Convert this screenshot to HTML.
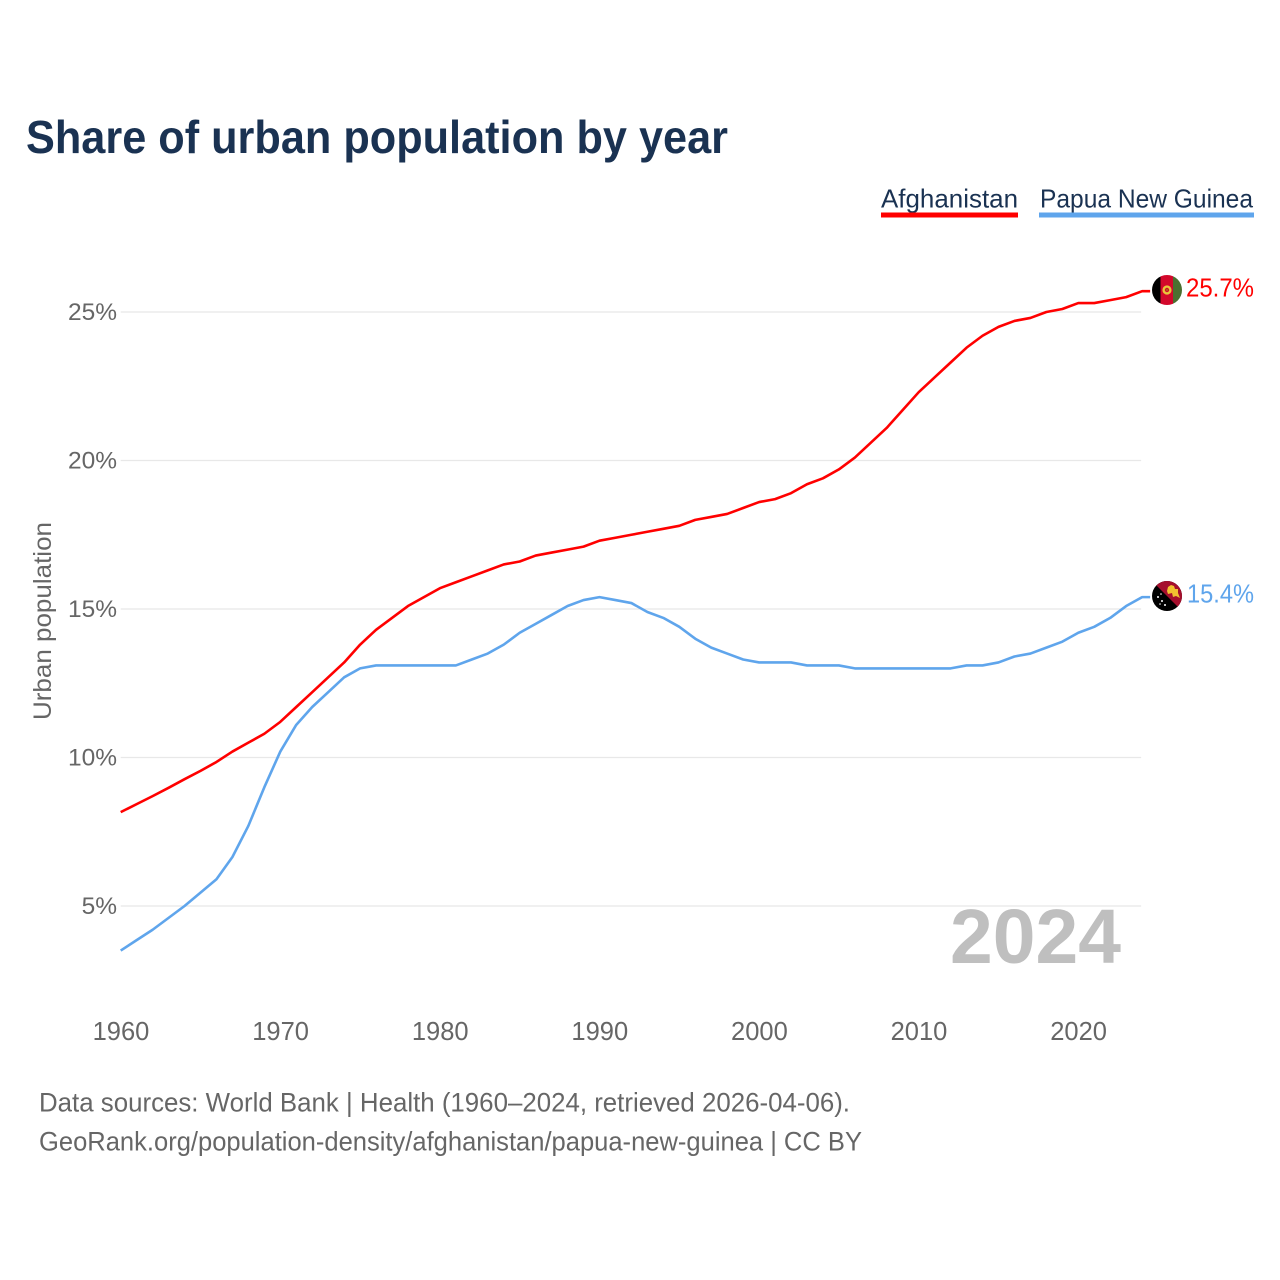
<!DOCTYPE html>
<html lang="en">
<head>
<meta charset="utf-8">
<title>Share of urban population by year</title>
<style>
html,body{margin:0;padding:0;background:#fff;width:1280px;height:1280px;overflow:hidden}
svg{display:block}
text{font-family:"Liberation Sans",sans-serif}
</style>
</head>
<body>
<svg id="chart" width="1280" height="1280" viewBox="0 0 1280 1280" xmlns="http://www.w3.org/2000/svg">
  <defs>
    <clipPath id="clip-af"><circle cx="1167" cy="290" r="15"/></clipPath>
    <clipPath id="clip-pg"><circle cx="1167" cy="596" r="15"/></clipPath>
  </defs>
  <rect x="0" y="0" width="1280" height="1280" fill="#fff"/>
  <text x="26" y="153" font-size="46" font-weight="700" fill="#1a3252" textLength="702" lengthAdjust="spacingAndGlyphs">Share of urban population by year</text>

  <g>
    <g>
      <text x="881" y="207.5" font-size="26" fill="#1a3252" textLength="137" lengthAdjust="spacingAndGlyphs">Afghanistan</text>
      <rect x="881" y="212.5" width="137" height="5" fill="#ff0000"/>
    </g>
    <g>
      <text x="1040" y="207.5" font-size="26" fill="#1a3252" textLength="213" lengthAdjust="spacingAndGlyphs">Papua New Guinea</text>
      <rect x="1039" y="212.5" width="215" height="5" fill="#5fa5ec"/>
    </g>
  </g>

  <g id="grid"></g>
  <g id="yticks"></g>
  <g id="xticks"></g>
  <text transform="translate(51,621) rotate(-90)" text-anchor="middle" font-size="25" fill="#666" textLength="198" lengthAdjust="spacingAndGlyphs">Urban population</text>
  <text x="950" y="963" font-size="77" font-weight="700" fill="#bfbfbf" textLength="171" lengthAdjust="spacingAndGlyphs">2024</text>

  <g id="series"></g>

  <g clip-path="url(#clip-af)">
    <rect x="1152" y="275" width="8.5" height="30" fill="#000"/>
    <rect x="1160.5" y="275" width="12.5" height="30" fill="#d3082b"/>
    <rect x="1173" y="275" width="9" height="30" fill="#4a7030"/>
    <circle cx="1167" cy="290" r="3.4" fill="none" stroke="#e8c53a" stroke-width="2.4"/>
    <circle cx="1167" cy="290" r="1" fill="#a8701a"/>
  </g>
  <g clip-path="url(#clip-pg)">
    <rect x="1152" y="581" width="30" height="30" fill="#000"/>
    <polygon points="1152,581 1182,581 1182,611" fill="#a50f2d"/>
    <polygon points="1167,591 1168,587 1171,585 1174,586 1175,589 1178,589 1178,593 1180,598 1176,596 1173,597 1172,593 1168,594" fill="#f2c230"/>
    <circle cx="1158" cy="597" r="1" fill="#fff"/>
    <circle cx="1161" cy="594" r="0.8" fill="#fff"/>
    <circle cx="1162" cy="601" r="1" fill="#fff"/>
    <circle cx="1160" cy="604" r="0.8" fill="#fff"/>
    <circle cx="1165" cy="605" r="1" fill="#fff"/>
  </g>

  <text id="value-af" x="1186" y="296.5" font-size="26" fill="#ff0000" textLength="68" lengthAdjust="spacingAndGlyphs"></text>
  <text id="value-pg" x="1187" y="602.5" font-size="26" fill="#5fa5ec" textLength="67" lengthAdjust="spacingAndGlyphs"></text>

  <g>
    <text x="39" y="1111.5" font-size="27" fill="#666" textLength="811" lengthAdjust="spacingAndGlyphs">Data sources: World Bank | Health (1960–2024, retrieved 2026-04-06).</text>
    <text x="39" y="1150.5" font-size="27" fill="#666" textLength="823" lengthAdjust="spacingAndGlyphs">GeoRank.org/population-density/afghanistan/papua-new-guinea | CC BY</text>
  </g>
</svg>
<script>
const years = [1960,1961,1962,1963,1964,1965,1966,1967,1968,1969,1970,1971,1972,1973,1974,1975,1976,1977,1978,1979,1980,1981,1982,1983,1984,1985,1986,1987,1988,1989,1990,1991,1992,1993,1994,1995,1996,1997,1998,1999,2000,2001,2002,2003,2004,2005,2006,2007,2008,2009,2010,2011,2012,2013,2014,2015,2016,2017,2018,2019,2020,2021,2022,2023,2024];
const afghanistan = [8.16,8.43,8.7,8.98,9.27,9.55,9.85,10.2,10.5,10.8,11.2,11.7,12.2,12.7,13.2,13.8,14.3,14.7,15.1,15.4,15.7,15.9,16.1,16.3,16.5,16.6,16.8,16.9,17.0,17.1,17.3,17.4,17.5,17.6,17.7,17.8,18.0,18.1,18.2,18.4,18.6,18.7,18.9,19.2,19.4,19.7,20.1,20.6,21.1,21.7,22.3,22.8,23.3,23.8,24.2,24.5,24.7,24.8,25.0,25.1,25.3,25.3,25.4,25.5,25.7];
const papuaNewGuinea = [3.5,3.85,4.2,4.6,5.0,5.45,5.9,6.65,7.7,9.0,10.2,11.1,11.7,12.2,12.7,13.0,13.1,13.1,13.1,13.1,13.1,13.1,13.3,13.5,13.8,14.2,14.5,14.8,15.1,15.3,15.4,15.3,15.2,14.9,14.7,14.4,14.0,13.7,13.5,13.3,13.2,13.2,13.2,13.1,13.1,13.1,13.0,13.0,13.0,13.0,13.0,13.0,13.0,13.1,13.1,13.2,13.4,13.5,13.7,13.9,14.2,14.4,14.7,15.1,15.4];
const yTickValues = [5,10,15,20,25];
const xTickValues = [1960,1970,1980,1990,2000,2010,2020];

const SVG_NS = 'http://www.w3.org/2000/svg';
function xScale(year){ return 120.7 + (year - 1960) * 15.96; }
function yScale(pct){ return 906 - (pct - 5) * 29.7; }

const grid = document.getElementById('grid');
const yticks = document.getElementById('yticks');
const xticks = document.getElementById('xticks');
const seriesGroup = document.getElementById('series');

yTickValues.forEach(function(v){
  const line = document.createElementNS(SVG_NS, 'line');
  
  
  line.setAttribute('x1', xScale(1960));
  line.setAttribute('x2', xScale(2024) - 1);
  line.setAttribute('y1', yScale(v));
  line.setAttribute('y2', yScale(v));
  line.setAttribute('stroke', '#e8e8e8');
  line.setAttribute('stroke-width', '1.3');
  grid.appendChild(line);

  const label = document.createElementNS(SVG_NS, 'text');
  
  
  label.setAttribute('x', 117);
  label.setAttribute('y', yScale(v) + 8);
  label.setAttribute('text-anchor', 'end');
  label.setAttribute('font-size', '24.5');
  label.setAttribute('fill', '#666');
  label.textContent = v + '%';
  yticks.appendChild(label);
});

xTickValues.forEach(function(v){
  const label = document.createElementNS(SVG_NS, 'text');
  
  
  label.setAttribute('x', xScale(v) + 0.3);
  label.setAttribute('y', 1040);
  label.setAttribute('text-anchor', 'middle');
  label.setAttribute('font-size', '25.5');
  label.setAttribute('fill', '#666');
  label.textContent = String(v);
  xticks.appendChild(label);
});

function drawSeries(values, color, name){
  let d = '';
  values.forEach(function(v, i){
    d += (i ? 'L' : 'M') + xScale(years[i]).toFixed(2) + ' ' + yScale(v).toFixed(2);
  });
  const last = values[values.length - 1];
  d += 'L' + (xScale(years[years.length - 1]) + 8).toFixed(2) + ' ' + yScale(last).toFixed(2);
  const path = document.createElementNS(SVG_NS, 'path');
  
  
  path.setAttribute('d', d);
  path.setAttribute('fill', 'none');
  path.setAttribute('stroke', color);
  path.setAttribute('stroke-width', '2.6');
  path.setAttribute('stroke-linejoin', 'round');
  seriesGroup.appendChild(path);
}
drawSeries(afghanistan, '#ff0000', 'line-afghanistan');
drawSeries(papuaNewGuinea, '#5fa5ec', 'line-papua-new-guinea');

document.getElementById('value-af').textContent = afghanistan[afghanistan.length - 1].toFixed(1) + '%';
document.getElementById('value-pg').textContent = papuaNewGuinea[papuaNewGuinea.length - 1].toFixed(1) + '%';
</script>
</body>
</html>
